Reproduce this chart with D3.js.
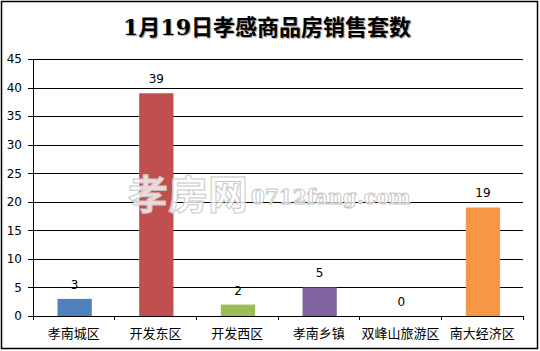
<!DOCTYPE html>
<html>
<head>
<meta charset="utf-8">
<script src="https://cdn.jsdelivr.net/npm/d3@7/dist/d3.min.js"></script>
<style>
  body { margin: 0; background: #fff; }
  svg text { font-family: "DejaVu Sans", "Noto Sans CJK SC", sans-serif; }
</style>
</head>
<body>
<div class="chart"></div>
<script>
// data
var titleText = '1月19日孝感商品房销售套数';
var districts = ['孝南城区', '开发东区', '开发西区', '孝南乡镇', '双峰山旅游区', '南大经济区'];
var sales = [3, 39, 2, 5, 0, 19];
var barColors = ['#4F81BD', '#C0504D', '#9BBB59', '#8064A2', '#4BACC6', '#F79646'];
var yTicks = [0, 5, 10, 15, 20, 25, 30, 35, 40, 45];

var W = 540, H = 351;
var margin = {top: 59, right: 17, bottom: 35, left: 33};
var width = W - margin.left - margin.right;
var height = H - margin.top - margin.bottom;

var root = d3.select('.chart').append('svg')
	.attr('width', W)
	.attr('height', H);

// frame
root.append('rect')
	.attr('x', 1.5).attr('y', 1.5)
	.attr('width', 536).attr('height', 347)
	.attr('fill', '#fff')
	.attr('stroke', '#000')
	.attr('stroke-width', 1.5);

// title
root.append('text')
	.attr('x', 267)
	.attr('y', 35)
	.attr('text-anchor', 'middle')
	.style('font-family', '"DejaVu Serif", "Noto Sans CJK SC", serif')
	.style('font-size', '22px')
	.style('font-weight', 'bold')
	.style('fill', '#000')
	.style('text-shadow', '1px 1px 1px #999')
	.text(titleText);

var svg = root.append('g')
	.attr('transform', 'translate(' + margin.left + ',' + margin.top + ')');

var xScale = d3.scaleBand()
	.domain(districts)
	.range([0, width]);

var yScale = d3.scaleLinear()
	.domain([0, 45])
	.range([height, 0]);

// gridlines
svg.append('g')
	.attr('class', 'grid')
	.call(d3.axisLeft(yScale).tickValues(yTicks).tickSize(-width).tickFormat(''))
	.call(function(g){ g.select('.domain').remove(); })
	.selectAll('line').attr('stroke', '#000').attr('shape-rendering', 'crispEdges');

// y axis
var yAxis = svg.append('g')
	.attr('class', 'y axis')
	.call(d3.axisLeft(yScale).tickValues(yTicks).tickSize(5).tickPadding(6).tickSizeOuter(0));
yAxis.selectAll('text').style('font-size', '12px').style('fill', '#000');
yAxis.selectAll('line, path').attr('stroke', '#000').attr('shape-rendering', 'crispEdges');

// bars
svg.selectAll('.bar')
	.data(sales)
	.enter().append('rect')
	.attr('class', 'bar')
	.attr('x', function(d, i){ return xScale(districts[i]) + xScale.bandwidth() * 0.3; })
	.attr('width', xScale.bandwidth() * 0.42)
	.attr('y', function(d){ return yScale(d); })
	.attr('height', function(d){ return height - yScale(d); })
	.attr('fill', function(d, i){ return barColors[i]; });

// watermark
var wm = root.append('text')
	.attr('x', 128)
	.attr('y', 209)
	.style('fill', '#fff')
	.style('fill-opacity', 0.8)
	.style('stroke', '#c8c8c8')
	.style('stroke-width', 1);
wm.append('tspan')
	.style('font-family', '"Noto Sans CJK SC", sans-serif')
	.style('font-size', '40px')
	.style('font-weight', 'bold')
	.text('孝房网');
wm.append('tspan')
	.style('font-family', '"DejaVu Serif", serif')
	.style('font-size', '20px')
	.style('font-weight', 'bold')
	.attr('dx', 3)
	.attr('dy', -5)
	.text('0712fang.com');

// value labels
svg.selectAll('.val')
	.data(sales)
	.enter().append('text')
	.attr('class', 'val')
	.attr('x', function(d, i){ return xScale(districts[i]) + xScale.bandwidth() * 0.51; })
	.attr('y', function(d){ return yScale(d) - 10; })
	.attr('text-anchor', 'middle')
	.style('font-size', '12px')
	.style('fill', '#000')
	.text(function(d){ return d; });

// x axis
var xAxis = svg.append('g')
	.attr('class', 'x axis')
	.attr('transform', 'translate(0,' + height + ')')
	.call(d3.axisBottom(xScale).tickSize(0).tickPadding(13));
xAxis.selectAll('text')
	.style('font-family', '"Noto Sans CJK SC", sans-serif')
	.style('font-size', '13px')
	.style('fill', '#000');
xAxis.select('.domain').attr('stroke', '#000').attr('d', 'M0,0H' + width).attr('shape-rendering', 'crispEdges');

// tick marks between categories
xAxis.selectAll('.sep')
	.data(d3.range(districts.length + 1))
	.enter().append('line')
	.attr('class', 'sep')
	.attr('x1', function(i){ return i * xScale.step(); })
	.attr('x2', function(i){ return i * xScale.step(); })
	.attr('y1', 0).attr('y2', 4)
	.attr('stroke', '#000')
	.attr('shape-rendering', 'crispEdges');
</script>
</body>
</html>
